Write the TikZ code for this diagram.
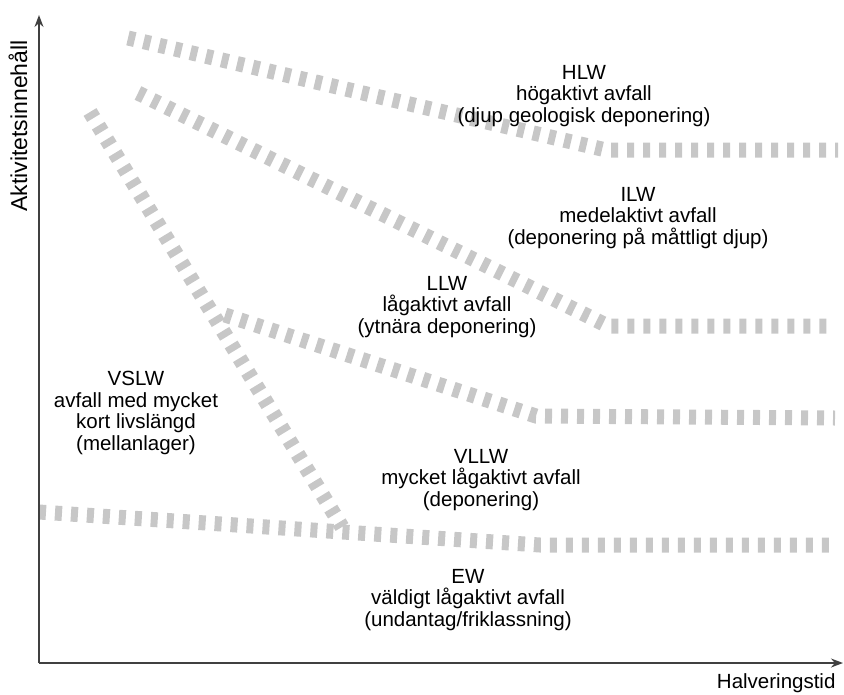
\documentclass[tikz,border=0pt]{standalone}
\usepackage{fontspec}
\setmainfont{Liberation Sans}
\usetikzlibrary{arrows.meta}

\tikzset{
  band/.style={draw=black!22, line width=15pt, dash pattern=on 7pt off 9pt},
  klass/.style={align=center, font=\fontsize{20.5}{21.5}\selectfont},
  axel/.style={draw=black!75, line width=1.5pt, -{Stealth[length=12pt,width=9pt]}},
  axeltext/.style={font=\fontsize{20.5}{21.5}\selectfont}
}

\begin{document}
\begin{tikzpicture}[x=1pt,y=-1pt]
        \useasboundingbox (0,0) rectangle (844,694);

        % band bends
        \coordinate (hlwbend) at (606,150);
        \coordinate (ilwbend) at (608,326);
        \coordinate (llwbend) at (536,416);
        \coordinate (ewbend) at (540,545);

        \draw[band] (128,38) -- (hlwbend) -- (838,150);
        \draw[band] (138,93) -- (ilwbend) -- (835,326);
        \draw[band] (225,315) -- (llwbend) -- (835,418);
        \draw[band] (39,512) -- (ewbend) -- (835,545);
        \draw[band] (90,112) -- (342,527);

        % axes
        \coordinate (O) at (39,663);
        \draw[axel] (O) -- (39,15);
        \draw[axel] (O) -- (843,663);

        \node[axeltext, font=\fontsize{23}{24}\selectfont, rotate=90] (yl) at (18,126) {Aktivitetsinnehåll};
        \node[axeltext, anchor=east] (xl) at (839,683) {Halveringstid};

        \node[klass] (hlw) at (584,96) {HLW\\högaktivt avfall\\(djup geologisk deponering)};
        \node[klass] (ilw) at (638,218) {ILW\\medelaktivt avfall\\(deponering på måttligt djup)};
        \node[klass] (llw) at (447,307) {LLW\\lågaktivt avfall\\(ytnära deponering)};
        \node[klass] (vslw) at (136,413) {VSLW\\avfall med mycket\\kort livslängd\\(mellanlager)};
        \node[klass] (vllw) at (481,480) {VLLW\\mycket lågaktivt avfall\\(deponering)};
        \node[klass] (ew) at (468,600) {EW\\väldigt lågaktivt avfall\\(undantag/friklassning)};
    \end{tikzpicture}
\end{document}
